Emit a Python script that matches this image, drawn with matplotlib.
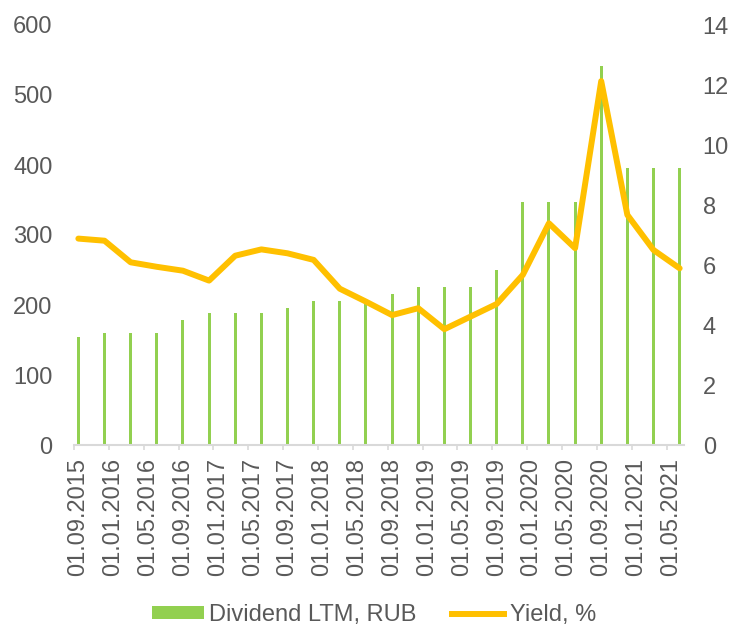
import matplotlib
matplotlib.use("Agg")
import matplotlib.pyplot as plt
import pandas as pd
from matplotlib.lines import Line2D
from matplotlib.patches import Patch

# Data (quarterly observations)
dates = ["01.09.2015", "01.12.2015", "01.03.2016", "01.06.2016",
         "01.09.2016", "01.12.2016", "01.03.2017", "01.06.2017",
         "01.09.2017", "01.12.2017", "01.03.2018", "01.06.2018",
         "01.09.2018", "01.12.2018", "01.03.2019", "01.06.2019",
         "01.09.2019", "01.12.2019", "01.03.2020", "01.06.2020",
         "01.09.2020", "01.12.2020", "01.03.2021", "01.06.2021"]
dividend_ltm = [155, 160, 160, 160, 178, 188, 188, 188, 196, 206, 206, 206,
                216, 226, 226, 226, 250, 347, 347, 347, 542, 396, 396, 396]
yield_pct = [6.88, 6.81, 6.09, 5.94, 5.81, 5.48, 6.31, 6.52, 6.39, 6.17, 5.21, 4.78,
             4.33, 4.56, 3.86, 4.28, 4.70, 5.67, 7.39, 6.56, 12.13, 7.67, 6.50, 5.89]
tick_labels = ["01.09.2015", "01.01.2016", "01.05.2016", "01.09.2016", "01.01.2017",
               "01.05.2017", "01.09.2017", "01.01.2018", "01.05.2018", "01.09.2018",
               "01.01.2019", "01.05.2019", "01.09.2019", "01.01.2020", "01.05.2020",
               "01.09.2020", "01.01.2021", "01.05.2021"]

plt.rcParams['font.family'] = ['Liberation Sans', 'DejaVu Sans']
TXT = '#595959'
FS = 17

start = pd.to_datetime(dates[0], format="%d.%m.%Y")
def month_idx(s):
    d = pd.to_datetime(s, format="%d.%m.%Y")
    return (d.year - start.year) * 12 + (d.month - start.month)

x = [month_idx(d) for d in dates]
xt = [month_idx(d) for d in tick_labels]

fig = plt.figure(figsize=(7.30, 6.27), dpi=100)
ax = fig.add_axes([74/730, 1 - 445/627, (684-74)/730, (445-25)/627])
ax2 = ax.twinx()

ax.bar(x, dividend_ltm, width=0.36, color='#92D050', zorder=2)
ax2.plot(x, yield_pct, color='#FFC000', lw=4.3, solid_capstyle='round',
         solid_joinstyle='round', zorder=3)

ax.set_xlim(-0.5, x[-1] + 0.5)
ax.set_ylim(0, 600)
ax2.set_ylim(0, 14)
ax.set_yticks(range(0, 601, 100))
ax2.set_yticks(range(0, 15, 2))

# major ticks: marks at month boundaries, minor: labels at month centres
ax.set_xticks([t - 0.5 for t in xt])
ax.set_xticklabels([])
ax.set_xticks(xt, minor=True)
ax.set_xticklabels(tick_labels, minor=True, rotation=90, fontsize=FS, color=TXT)
ax.tick_params(axis='x', which='major', length=3.6, width=1.2, color='#D9D9D9', direction='out')
ax.tick_params(axis='x', which='minor', length=0, pad=9)

for a in (ax, ax2):
    for s in ('top', 'left', 'right'):
        a.spines[s].set_visible(False)
    a.spines['bottom'].set_color('#D9D9D9')
    a.spines['bottom'].set_linewidth(1.5)
    a.patch.set_visible(False)

ax.tick_params(axis='y', length=0, pad=15.5, labelsize=FS, labelcolor=TXT)
ax2.tick_params(axis='y', length=0, pad=13.5, labelsize=FS, labelcolor=TXT)
ax2.spines['bottom'].set_visible(False)

handles = [Patch(facecolor='#92D050', edgecolor='none'),
           Line2D([0], [0], color='#FFC000', lw=4.3)]
fig.legend(handles, ["Dividend LTM, RUB", "Yield, %"], loc='center',
           bbox_to_anchor=(374/730, 1 - 615/627), ncol=2, frameon=False,
           fontsize=FS, labelcolor=TXT, handlelength=2.2, handleheight=0.45,
           handletextpad=0.25, columnspacing=1.5)

fig.savefig("out.png", dpi=100)
